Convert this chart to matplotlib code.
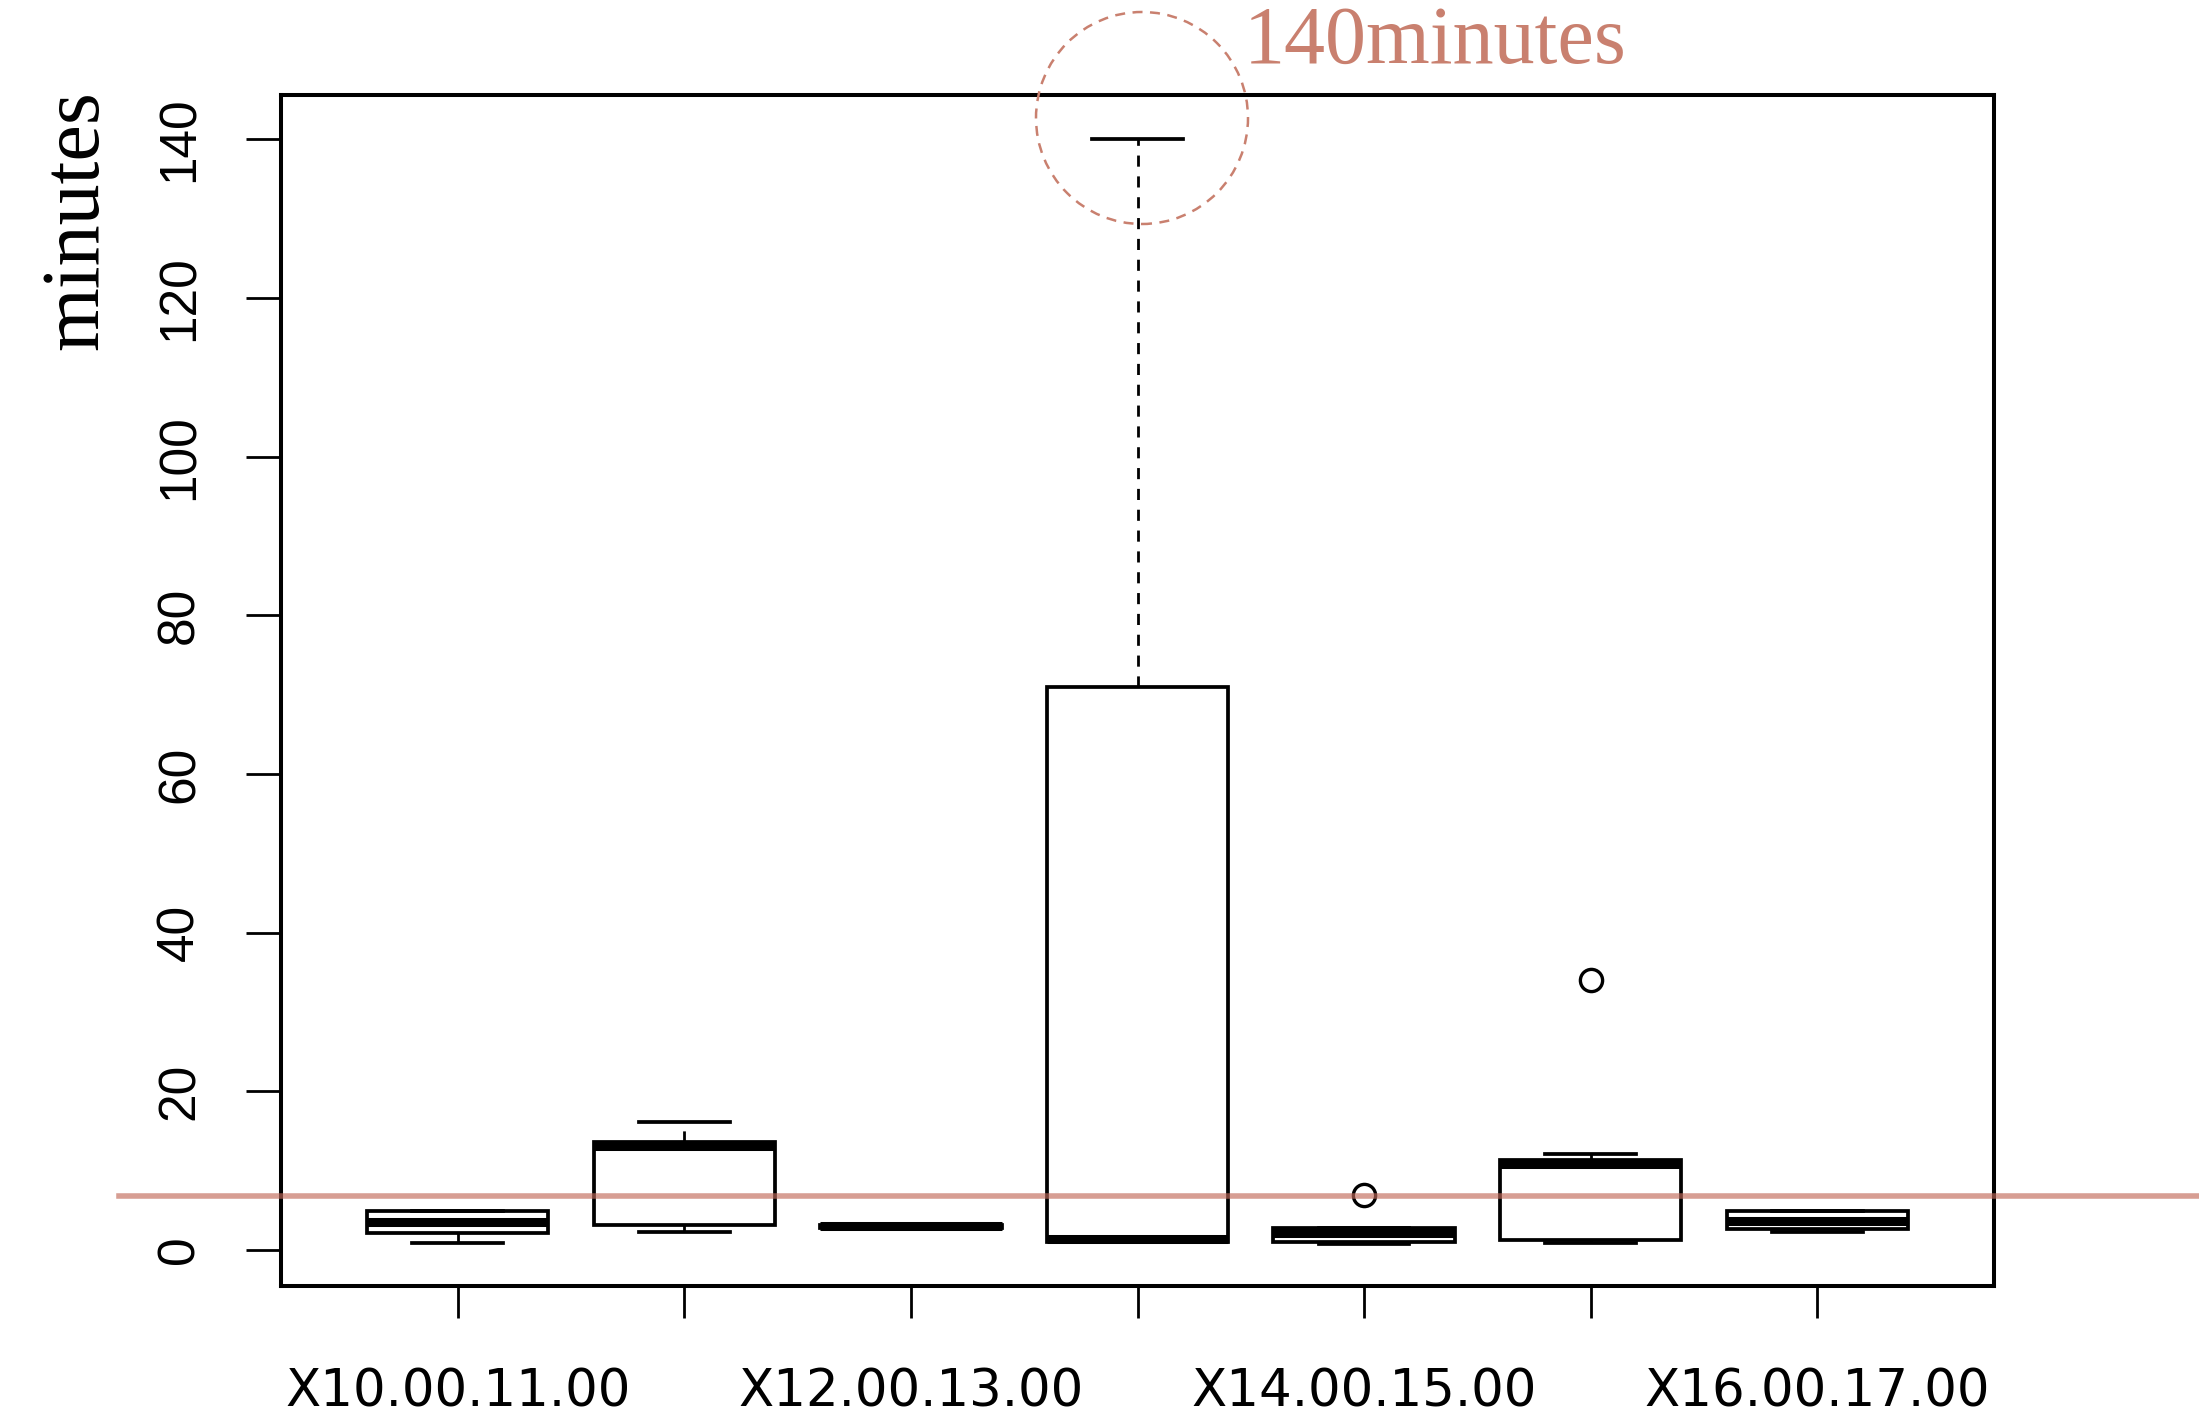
import matplotlib
matplotlib.use('Agg')
import matplotlib.pyplot as plt
from matplotlib.patches import Ellipse
from matplotlib.transforms import blended_transform_factory

# time slots (only every other label is shown, as R drops overlapping ones)
slots = ['X10.00.11.00', 'X11.00.12.00', 'X12.00.13.00', 'X13.00.14.00',
         'X14.00.15.00', 'X15.00.16.00', 'X16.00.17.00']
whislo = [0.9, 2.2, 2.7, 1.0, 0.8, 0.9, 2.2]
q1 = [2.1, 3.1, 2.7, 1.0, 1.0, 1.2, 2.6]
med = [3.5, 13.1, 3.0, 1.4, 2.1, 10.8, 3.6]
q3 = [4.9, 13.6, 3.2, 71.0, 2.8, 11.3, 4.9]
whishi = [4.9, 16.1, 3.2, 140.0, 2.8, 12.1, 4.9]
fliers = [[], [], [], [], [6.9], [34.0], []]
ref_line = 6.8
yticks = [0, 20, 40, 60, 80, 100, 120, 140]

W, H = 2199, 1421
fig = plt.figure(figsize=(W / 100, H / 100), dpi=100)
ax = fig.add_axes([281 / W, 1 - 1286 / H, (1994 - 281) / W, (1286 - 95) / H])

stats = []
for i in range(len(slots)):
    stats.append({'whislo': whislo[i], 'q1': q1[i], 'med': med[i], 'q3': q3[i],
                  'whishi': whishi[i], 'fliers': fliers[i], 'label': slots[i]})

ax.bxp(stats, positions=range(1, 8), widths=0.8, patch_artist=True,
       showfliers=True,
       boxprops=dict(facecolor='white', edgecolor='black', linewidth=2.7),
       medianprops=dict(color='black', linewidth=6.5, solid_capstyle='butt'),
       whiskerprops=dict(color='black', linewidth=2.0, linestyle=(0, (4, 3.5))),
       capprops=dict(color='black', linewidth=2.7),
       flierprops=dict(marker='o', markerfacecolor='none', markeredgecolor='black',
                       markersize=16, markeredgewidth=2.4))

ax.set_xlim(0.22, 7.78)
ax.set_ylim(-4.55, 145.6)
ax.set_xticks(range(1, 8))
ax.set_xticklabels([s if i % 2 == 0 else '' for i, s in enumerate(slots)],
                   fontsize=37, family='DejaVu Sans')
ax.set_yticks(yticks)
ax.set_yticklabels([str(v) for v in yticks], fontsize=37, family='Liberation Sans',
                   rotation=90, va='center')
ax.tick_params(axis='y', length=25, width=2, pad=30)
ax.tick_params(axis='x', length=23, width=2, pad=36)
for sp in ax.spines.values():
    sp.set_linewidth(2.9)

# red reference line, running past the left of the axes
tr = blended_transform_factory(fig.transFigure, ax.transData)
ax.plot([119 / W, 1.0], [ref_line, ref_line], transform=tr, clip_on=False,
        color='#c26a5a', alpha=0.65, linewidth=4, zorder=5)

fig.text(78 / W, 1 - 90 / H, 'minutes', rotation=90, ha='center', va='top',
         fontsize=59, family='Liberation Serif')

red = '#c9806f'
fig.add_artist(Ellipse((1142 / W, 1 - 118 / H), 212 / W, 212 / H,
                       transform=fig.transFigure, fill=False, edgecolor=red,
                       linewidth=1.8, linestyle=(0, (4, 3))))
fig.text(1244 / W, 1 - 63 / H, '140minutes', ha='left', va='baseline',
         fontsize=59, family='Liberation Serif', color=red)

fig.savefig('out.png', dpi=100)
